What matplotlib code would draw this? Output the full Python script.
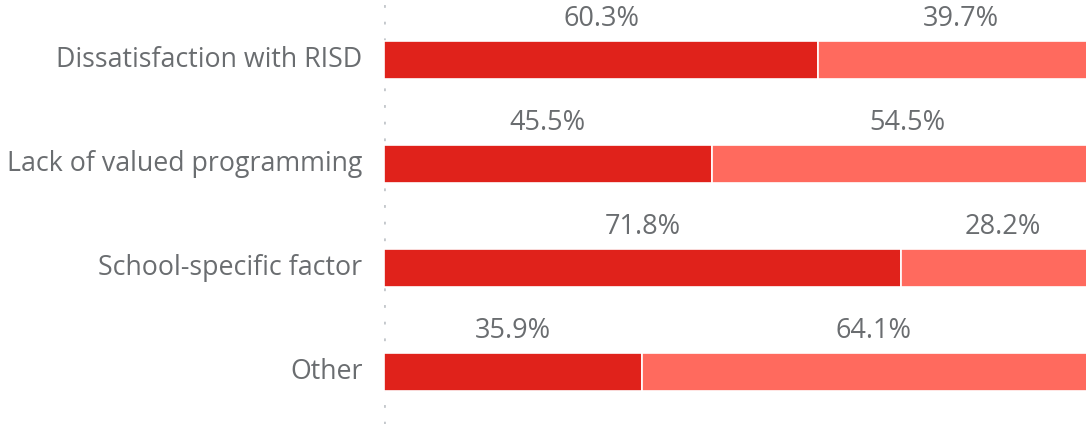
import matplotlib
matplotlib.use("Agg")
import matplotlib.pyplot as plt

categories = ["Dissatisfaction with RISD", "Lack of valued programming",
              "School-specific factor", "Other"]
share_first = [60.3, 45.5, 71.8, 35.9]
share_second = [39.7, 54.5, 28.2, 64.1]

dark_red = "#E0221B"
light_red = "#FF6A5E"
text_grey = "#6A6D70"

plt.rcParams["font.family"] = ["Open Sans", "DejaVu Sans"]

fig = plt.figure(figsize=(10.86, 4.24), dpi=100)
ax = fig.add_axes([384 / 1086, 0, 720 / 1086, 1])

ys = list(range(len(categories)))
bar_h = 0.36
ax.barh(ys, share_first, height=bar_h, color=dark_red, edgecolor="white", linewidth=1.2)
ax.barh(ys, share_second, left=share_first, height=bar_h, color=light_red,
        edgecolor="white", linewidth=1.2)

for y, label, a, b in zip(ys, categories, share_first, share_second):
    ax.text(a / 2, y - 0.39, f"{a:.1f}%", ha="center", va="center",
            fontsize=19.5, color=text_grey)
    ax.text(a + b / 2, y - 0.39, f"{b:.1f}%", ha="center", va="center",
            fontsize=19.5, color=text_grey)
    ax.text(-3.0, y, label, ha="right", va="center",
            fontsize=19.3, color=text_grey, clip_on=False)

ax.axvline(0, color="#C4C8CC", linestyle=(0, (1, 5)), linewidth=2.0, zorder=0)

ax.set_xlim(0, 100)
ax.set_ylim(3.5, -0.577)
ax.axis("off")

fig.savefig("out.png", dpi=100, facecolor="white")
